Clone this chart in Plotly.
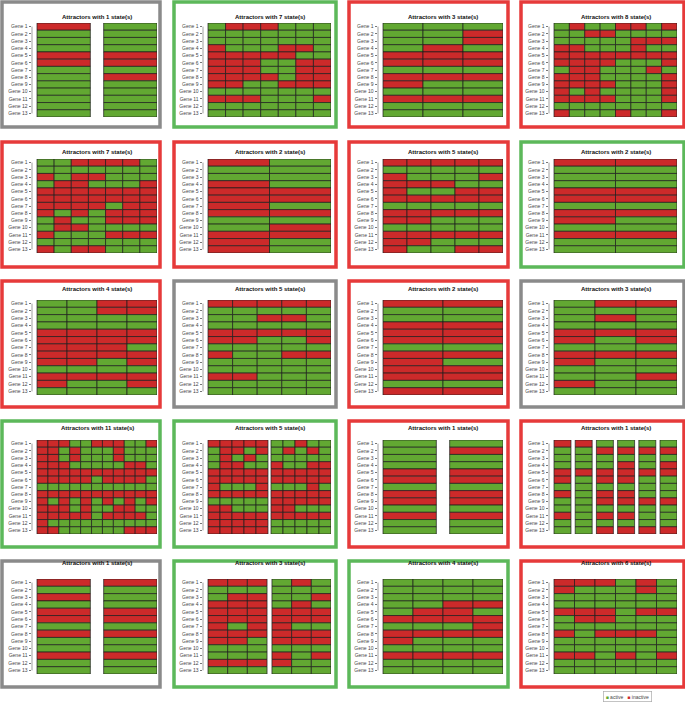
import plotly.graph_objects as go

# each attractor: one string per gene (Gene 1..13), one char per state; 1 = active, 0 = inactive
genes = ["Gene %d" % i for i in range(1, 14)]

p01 = [["0", "1", "1", "1", "0", "0", "1", "1", "1", "1", "1", "1", "1"],
       ["1", "1", "1", "1", "0", "0", "1", "0", "1", "1", "1", "1", "1"]]
p02 = [["1000111", "1111111", "1111111", "0111001", "0000011", "0001100", "0001100",
        "0000100", "0011000", "1111111", "0001110", "1111111", "1111111"]]
p03 = [["111", "110", "110", "101", "000", "000", "111", "000", "011", "111", "000", "111", "111"]]
p04 = [["10110010", "11001111", "11111000", "00111011", "00000000", "00001110", "10011101",
        "00011110", "00001110", "01011110", "00001110", "11111111", "01110110"]]
p05 = [["1100001", "1111111", "0100111", "1001110", "0000000", "0000000", "0000100",
        "0101000", "1011000", "1001111", "0111000", "1111111", "0100111"]]
p06 = [["01", "11", "11", "01", "00", "00", "01", "00", "11", "10", "00", "01", "01"]]
p07 = [["00000", "11111", "01110", "00011", "01100", "00000", "11111",
        "00000", "00111", "11111", "00000", "00111", "01100"]]
p08 = [["00", "11", "11", "11", "00", "00", "11", "00", "01", "11", "00", "11", "11"]]
p09 = [["1100", "1100", "1111", "1111", "0000", "0000", "0001", "0000", "0010", "1111", "0000", "0110", "1111"]]
p10 = [["00000", "11111", "11001", "11111", "00000", "00110", "11111",
        "01100", "11111", "11111", "00111", "11111", "11111"]]
p11 = [["00", "11", "11", "00", "00", "00", "11", "00", "01", "00", "00", "11", "00"]]
p12 = [["100", "111", "101", "111", "000", "010", "111", "000", "011", "111", "110", "011", "111"]]
p13 = [["00011000110", "00101110111", "00101110111", "00011111001", "00000000000",
        "00000100001", "11111111111", "00000000000", "01010101010", "00010110011",
        "00000100001", "01111111111", "00111111000"]]
p14 = [["00000", "10010", "10101", "10011", "00000", "00000", "01110",
        "00000", "11111", "00111", "00000", "00000", "00000"],
       ["11011", "10101", "11111", "01100", "00000", "00000", "11101",
        "00000", "00000", "00111", "00000", "11111", "11111"]]
p15 = [list("1111001001011"), list("1011001001011")]
p16 = [list("0111001011011"), list("0111011111111"), list("1011001001010"),
       list("1010001001010"), list("1011011101110"), list("1010011101110")]
p17 = [list("0101001011011"), list("0111001011011")]
p18 = [["000", "111", "100", "000", "000", "000", "010", "000", "001", "111", "111", "000", "111"],
       ["101", "111", "110", "101", "000", "000", "011", "000", "000", "111", "010", "011", "111"]]
p19 = [["1111", "1111", "1111", "1100", "1001", "0000", "1110", "0000", "0111", "1111", "0000", "1111", "1111"]]
p20 = [["000101", "011101", "111111", "111111", "000100", "100111", "111111",
        "010001", "111111", "111111", "001010", "111111", "111111"]]

panels = [p01, p02, p03, p04, p05, p06, p07, p08, p09, p10,
          p11, p12, p13, p14, p15, p16, p17, p18, p19, p20]
state_counts = [1, 7, 3, 8, 7, 2, 5, 2, 4, 5, 2, 3, 11, 5, 1, 1, 1, 3, 4, 6]
frame_colors = ["grey", "green", "red", "red",
                "red", "red", "red", "green",
                "red", "grey", "red", "grey",
                "green", "green", "red", "red",
                "grey", "green", "green", "red"]

cell_colors = {"1": "#62a832", "0": "#cc2a2a"}
frame_rgb = {"grey": "#8a8a8a", "green": "#5cb85a", "red": "#e63a3a"}

W, H = 685, 709
col_box = [(2, 160), (174, 336), (349, 508), (521, 684)]
col_heat = [(37, 157), (208, 331), (383, 503), (554, 677)]
row_box = [(2, 127), (142, 267), (281, 407), (421, 547), (561, 687)]
row_heat = [(23, 117), (159, 253), (300, 395), (440, 534), (579, 674)]
title_y = [12, 147, 289, 428, 568]
gap = 0.25

fig = go.Figure()
shapes = []
annotations = []
layout_axes = {}

for k, blocks in enumerate(panels):
    r, c = divmod(k, 4)
    sfx = "" if k == 0 else str(k + 1)

    xs, bases, cols = [], [], []
    start = 0.0
    for b in blocks:
        n = len(b[0])
        for g, row in enumerate(b):
            for j, v in enumerate(row):
                xs.append(start + j + 0.5)
                bases.append(len(genes) - 1.5 - g)
                cols.append(cell_colors[v])
        start += n + gap
    total = start - gap

    fig.add_trace(go.Bar(
        x=xs, y=[1] * len(xs), base=bases, width=1,
        marker=dict(color=cols, line=dict(color="#1c1c1c", width=0.7)),
        xaxis="x" + sfx, yaxis="y" + sfx, showlegend=False, hoverinfo="skip"))

    hl, hr = col_heat[c]
    ht, hb = row_heat[r]
    pad = 5 * total / (hr - hl)
    layout_axes["xaxis" + sfx] = dict(
        domain=[(hl - 5) / W, hr / W], range=[-pad, total], visible=False,
        anchor="y" + sfx, fixedrange=True)
    layout_axes["yaxis" + sfx] = dict(
        domain=[1 - hb / H, 1 - ht / H], range=[-0.5, len(genes) - 0.5],
        anchor="x" + sfx, tickvals=list(range(len(genes) - 1, -1, -1)), ticktext=genes,
        ticks="outside", ticklen=2.5, tickwidth=0.6, tickcolor="#777",
        tickfont=dict(size=5, color="#444", family="Liberation Sans"),
        showgrid=False, zeroline=False, showline=False, fixedrange=True)

    # axis bracket from first to last gene, like R's axis line
    shapes.append(dict(type="line", xref="x%s domain" % sfx, yref="y" + sfx,
                       x0=0, x1=0, y0=0, y1=len(genes) - 1,
                       line=dict(color="#888", width=0.8)))
    bl, br = col_box[c]
    bt, bb = row_box[r]
    shapes.append(dict(type="rect", xref="paper", yref="paper",
                       x0=bl / W, x1=br / W, y0=1 - bb / H, y1=1 - bt / H,
                       line=dict(color=frame_rgb[frame_colors[k]], width=3.5)))
    annotations.append(dict(
        text="<b>Attractors with %d state(s)</b>" % state_counts[k],
        xref="x" + sfx, x=total / 2, yref="paper", y=1 - title_y[r] / H,
        showarrow=False, font=dict(size=6, color="#111", family="Liberation Sans")))

annotations.append(dict(
    text='<span style="color:%s">■</span> active   <span style="color:%s">■</span> inactive'
         % (cell_colors["1"], cell_colors["0"]),
    xref="paper", yref="paper", x=652 / W, y=1 - 702 / H,
    showarrow=False, bordercolor="#aaa", borderwidth=0.7, borderpad=2, bgcolor="white",
    font=dict(size=5, color="#444", family="Liberation Sans")))

fig.update_layout(
    width=W, height=H, margin=dict(l=0, r=0, t=0, b=0),
    paper_bgcolor="white", plot_bgcolor="white", barmode="overlay",
    shapes=shapes, annotations=annotations, **layout_axes)

fig.write_html("out.html", config={"displayModeBar": False},
               post_script="document.body.style.margin='0';")
